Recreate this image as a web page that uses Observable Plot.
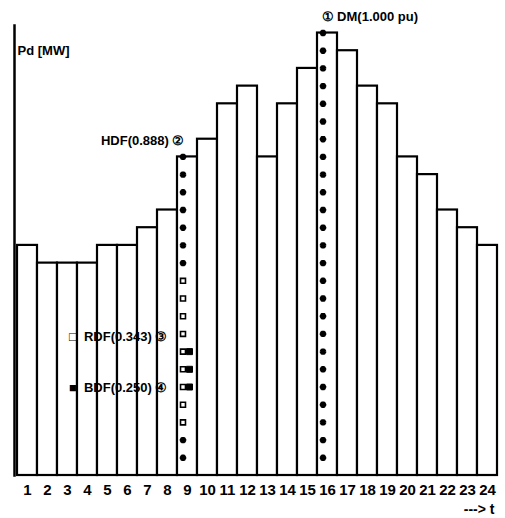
<!DOCTYPE html>
<html>
<head>
<meta charset="utf-8">
<script src="https://cdn.jsdelivr.net/npm/d3@7"></script>
<script src="https://cdn.jsdelivr.net/npm/@observablehq/plot@0.6"></script>
<style>
  html, body { margin: 0; padding: 0; background: white; }
</style>
</head>
<body>
<div id="chart"></div>
<script>
const hours = d3.range(1, 25);
// load in % of peak demand
const load = [52, 48, 48, 48, 52, 52, 56, 60, 72, 76, 84, 88, 72, 84, 92, 100, 96, 88, 84, 72, 68, 60, 56, 52];
const step = 4;
const hdfHour = 9;
const dmHour = 16;
// marker type per step level of hour 9, bottom to top: a = asterisk, o = open square, p = open + filled square
const hdfMarkerTypes = ["a","a","o","o","p","p","p","o","o","o","o","a","a","a","a","a","a","a"];
const labels = [
  {hour: 16, level: 100, text: "\u2460 DM(1.000 pu)", anchor: "start", dx: -6, dy: -16},
  {hour: 9, level: 72, text: "HDF(0.888) \u2461", anchor: "end", dx: -3, dy: -16},
  {hour: 9, level: 32, text: "\u25A1  RDF(0.343) \u2462", anchor: "end", dx: -20, dy: 3},
  {hour: 9, level: 20, text: "\u25A0  BDF(0.250) \u2463", anchor: "end", dx: -20, dy: 1}
];

const bars = hours.map((h, i) => ({hour: h, load: load[i]}));
const hdfMarkers = hdfMarkerTypes.map((t, i) => ({hour: hdfHour, level: (i + 1) * step, type: t}));
const dmMarkers = d3.range(1, load[dmHour - 1] / step + 1).map(k => ({hour: dmHour, level: k * step, type: "a"}));
const allMarkers = hdfMarkers.concat(dmMarkers);

const font = "'Liberation Sans', Arial, sans-serif";

const chart = Plot.plot({
  width: 505,
  height: 518,
  marginTop: 25,
  marginBottom: 43,
  marginLeft: 14,
  marginRight: 5,
  style: {background: "white", fontFamily: font, color: "black"},
  x: {domain: hours, padding: 0, axis: null},
  y: {domain: [0, 101.7], axis: null},
  marks: [
    Plot.barY(bars, {x: "hour", y: "load", fill: "white", stroke: "black", strokeWidth: 2.2}),
    Plot.frame({anchor: "left", stroke: "black", strokeWidth: 2.5}),
    Plot.axisX({domain: hours, tickSize: 0, tickPadding: 9, fontSize: 15, fontWeight: "bold", fontFamily: font, label: null}),
    Plot.dot(allMarkers.filter(d => d.type === "a"), {x: "hour", y: "level", dx: -4.5, symbol: "asterisk", r: 3, stroke: "black", strokeWidth: 3}),
    Plot.dot(allMarkers.filter(d => d.type === "o" || d.type === "p"), {x: "hour", y: "level", dx: -4.5, symbol: "square", r: 2.8, fill: "white", stroke: "black", strokeWidth: 1.6}),
    Plot.dot(allMarkers.filter(d => d.type === "p"), {x: "hour", y: "level", dx: 2, symbol: "square", r: 3.4, fill: "black", stroke: "black", strokeWidth: 1}),
    ...labels.map(l => Plot.text([l], {x: "hour", y: "level", text: "text", textAnchor: l.anchor, dx: l.dx, dy: l.dy, fontSize: 13, fontWeight: "bold", fill: "black"})),
    Plot.text(["Pd [MW]"], {frameAnchor: "top-left", dx: 3, dy: 20, fontSize: 13, fontWeight: "bold", fill: "black", textAnchor: "start"}),
    Plot.text(["---> t"], {frameAnchor: "bottom-right", dx: -6, dy: 38, fontSize: 14, fontWeight: "bold", fill: "black", textAnchor: "end", letterSpacing: 1})
  ]
});
document.getElementById("chart").append(chart);
</script>
</body>
</html>
